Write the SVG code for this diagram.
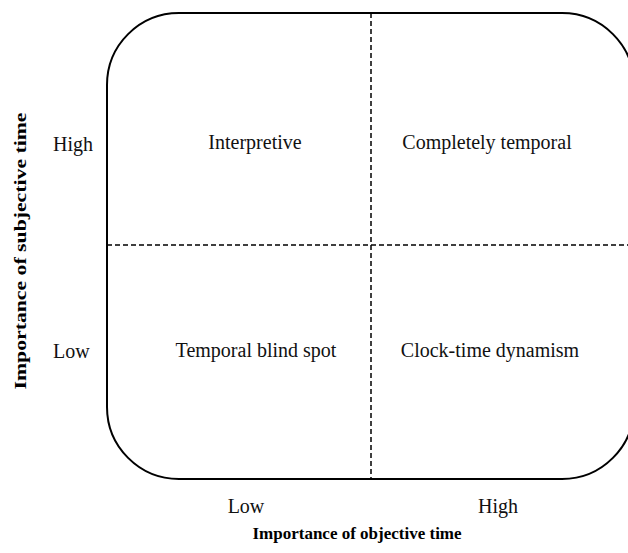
<svg xmlns="http://www.w3.org/2000/svg" width="628" height="553" viewBox="0 0 628 553">
<style>
.t{font-family:"Liberation Serif","Times New Roman",serif;font-size:20px;fill:#111;}
.b{font-family:"Liberation Serif","Times New Roman",serif;font-size:17px;font-weight:bold;fill:#000;}
.d{stroke:#000;stroke-width:1.5;stroke-dasharray:5,3;fill:none;}
</style>
<rect width="628" height="553" fill="#fff"/>
<g id="frame">
<rect x="107" y="13" width="527" height="466" rx="72" ry="72" fill="none" stroke="#000" stroke-width="2"/>
</g>
<g id="connectors">
<line class="d" x1="371" y1="13" x2="371" y2="479"/>
<line class="d" x1="107" y1="245" x2="628" y2="245"/>
</g>
<g id="q-interpretive"><text class="t" x="255" y="149" text-anchor="middle">Interpretive</text></g>
<g id="q-completely"><text class="t" x="487" y="149" text-anchor="middle">Completely temporal</text></g>
<g id="q-blind"><text class="t" x="256" y="357" text-anchor="middle">Temporal blind spot</text></g>
<g id="q-clock"><text class="t" x="490" y="357" text-anchor="middle">Clock-time dynamism</text></g>
<g id="axis-labels">
<text class="t" x="53" y="151">High</text>
<text class="t" x="53" y="358">Low</text>
<text class="t" x="246" y="513" text-anchor="middle">Low</text>
<text class="t" x="498" y="513" text-anchor="middle">High</text>
<text class="b" x="357" y="539" text-anchor="middle">Importance of objective time</text>
<text class="b" x="0" y="0" text-anchor="middle" transform="translate(26 251) rotate(-90)" textLength="277" lengthAdjust="spacingAndGlyphs">Importance of subjective time</text>
</g>
</svg>
